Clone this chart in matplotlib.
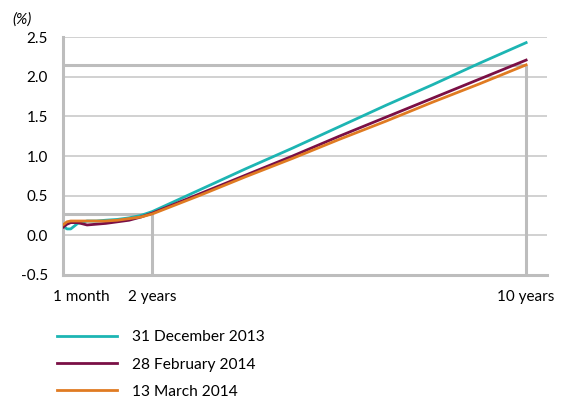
import matplotlib.pyplot as plt
from matplotlib import transforms

plt.rcParams["font.family"] = ["Lato", "DejaVu Sans"]

# maturities in years
maturity = [1 / 12, 0.17, 0.25, 0.4, 0.6, 0.8, 1.0, 1.25, 1.5, 1.75, 2,
            3, 4, 5, 6, 7, 8, 9, 10]

dec_2013 = [0.12, 0.08, 0.08, 0.15, 0.18, 0.18, 0.19, 0.20, 0.22, 0.25, 0.30,
            0.57, 0.84, 1.10, 1.37, 1.64, 1.90, 2.17, 2.43]
feb_2014 = [0.10, 0.14, 0.16, 0.16, 0.13, 0.14, 0.15, 0.17, 0.19, 0.23, 0.28,
            0.52, 0.76, 1.00, 1.25, 1.49, 1.73, 1.97, 2.21]
mar_2014 = [0.13, 0.17, 0.18, 0.18, 0.18, 0.18, 0.18, 0.19, 0.21, 0.23, 0.27,
            0.50, 0.74, 0.97, 1.21, 1.44, 1.68, 1.91, 2.15]

series_labels = ["31 December 2013", "28 February 2014", "13 March 2014"]
series_colors = ["#1db5b3", "#7a0f45", "#e07b22"]

x_ticks = [1 / 12, 2, 10]
x_tick_labels = ["1 month", "2 years", "10 years"]
y_ticks = [-0.5, 0.0, 0.5, 1.0, 1.5, 2.0, 2.5]

# reference markers (latest curve at 2y and 10y)
ref_2y = 0.27
ref_10y = 2.15

GRID = "#c9c9c9"
SPINE = "#bdbdbd"

fig = plt.figure(figsize=(5.67, 3.99), dpi=100, facecolor="white")
ax = fig.add_axes([0.111, 0.311, 0.854, 0.596])

ax.set_xlim(1 / 12, 10.45)
ax.set_ylim(-0.5, 2.5)

for y in y_ticks[1:]:
    ax.axhline(y, color=GRID, lw=1.2, zorder=1)

# reference lines
ax.plot([1 / 12, 2], [ref_2y, ref_2y], color=SPINE, lw=2.2, zorder=2,
        solid_capstyle="butt")
ax.plot([2, 2], [-0.5, ref_2y], color=SPINE, lw=2.2, zorder=2,
        solid_capstyle="butt")
ax.plot([1 / 12, 10], [ref_10y, ref_10y], color=SPINE, lw=2.2, zorder=2,
        solid_capstyle="butt")
ax.plot([10, 10], [-0.5, ref_10y], color=SPINE, lw=2.2, zorder=2,
        solid_capstyle="butt")

for values, label, color in zip([dec_2013, feb_2014, mar_2014],
                                series_labels, series_colors):
    ax.plot(maturity, values, color=color, lw=2.0, label=label, zorder=3)

for side in ["top", "right"]:
    ax.spines[side].set_visible(False)
for side in ["left", "bottom"]:
    ax.spines[side].set_color(SPINE)
    ax.spines[side].set_linewidth(2.2)

ax.set_yticks(y_ticks)
ax.set_yticklabels([f"{v:.1f}" for v in y_ticks])
ax.set_xticks(x_ticks)
ax.set_xticklabels(x_tick_labels)
ax.tick_params(axis="both", length=0, labelsize=11, colors="black")
ax.tick_params(axis="y", pad=11)
ax.tick_params(axis="x", pad=11)

first = ax.get_xticklabels()[0]
first.set_horizontalalignment("left")
first.set_transform(first.get_transform() +
                    transforms.ScaledTranslation(-10 / 100, 0, fig.dpi_scale_trans))

fig.text(0.021, 0.952, "(%)", fontsize=11, style="italic", ha="left", va="center")

fig.legend(loc="upper left", bbox_to_anchor=(0.1, 0.172), frameon=False,
           fontsize=11.2, handlelength=3.9, handletextpad=0.95,
           borderpad=0, borderaxespad=0, labelspacing=0.85)

fig.savefig("out.png", dpi=100, facecolor="white")
